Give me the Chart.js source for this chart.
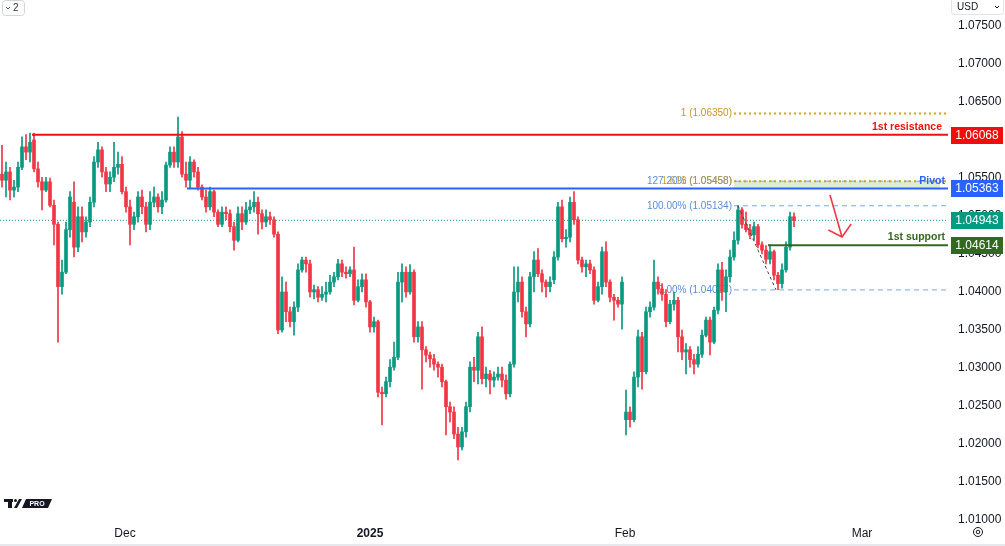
<!DOCTYPE html>
<html>
<head>
<meta charset="utf-8">
<script src="https://cdn.jsdelivr.net/npm/chart.js@4.4.1/dist/chart.umd.min.js"></script>
<style>
html,body{margin:0;padding:0;background:#fff;}
#wrap{position:relative;width:1005px;height:546px;}
</style>
</head>
<body>
<div id="wrap"><canvas id="c" width="1005" height="546"></canvas></div>
<script>
// ---- candle data (EUR/USD style) ----
const opens = [
1.0555,1.0547,1.0558,1.0534,1.0538,1.0564,1.0591,1.0584,1.0600,1.0562,
1.0545,1.0534,1.0545,1.0514,1.0489,1.0407,1.0426,1.0482,1.0518,1.0459,
1.0499,1.0479,1.0492,1.0518,1.0571,1.0587,1.0558,1.0542,1.0551,1.0564,
1.0568,1.0532,1.0512,1.0489,1.0499,1.0525,1.0512,1.0489,1.0518,1.0525,
1.0512,1.0521,1.0567,1.0584,1.0571,1.0604,1.0555,1.0547,1.0571,1.0558,
1.0538,1.0525,1.0512,1.0532,1.0505,1.0489,1.0505,1.0503,1.0486,1.0468,
1.0503,1.0492,1.0508,1.0512,1.0518,1.0503,1.0492,1.0499,1.0495,1.0476,
1.0350,1.0400,1.0374,1.0361,1.0380,1.0429,1.0442,1.0437,1.0400,1.0403,
1.0393,1.0397,1.0400,1.0413,1.0420,1.0437,1.0426,1.0424,1.0429,1.0389,
1.0407,1.0416,1.0387,1.0354,1.0361,1.0268,1.0266,1.0282,1.0301,1.0314,
1.0413,1.0426,1.0400,1.0426,1.0341,1.0354,1.0324,1.0317,1.0312,1.0305,
1.0301,1.0282,1.0249,1.0242,1.0213,1.0196,1.0216,1.0249,1.0301,1.0297,
1.0341,1.0286,1.0292,1.0284,1.0288,1.0292,1.0284,1.0266,1.0305,1.0400,
1.0413,1.0374,1.0358,1.0420,1.0442,1.0424,1.0413,1.0407,1.0416,1.0446,
1.0512,1.0470,1.0472,1.0518,1.0495,1.0442,1.0433,1.0437,1.0429,1.0389,
1.0407,1.0453,1.0413,1.0393,1.0389,1.0384,1.0232,1.0242,1.0232,1.0288,
1.0341,1.0295,1.0374,1.0380,1.0413,1.0404,1.0397,1.0361,1.0384,1.0389,
1.0341,1.0321,1.0324,1.0311,1.0305,1.0318,1.0343,1.0363,1.0334,1.0376,
1.0429,1.0400,1.0420,1.0446,1.0468,1.0508,1.0489,1.0482,1.0475,1.0486,
1.0462,1.0455,1.0443,1.0453,1.0422,1.0411,1.0429,1.0459,1.0499
];
const highs = [
1.0593,1.0571,1.0564,1.0547,1.0571,1.0604,1.0607,1.0609,1.0609,1.0571,
1.0551,1.0551,1.0550,1.0521,1.0492,1.0442,1.0492,1.0532,1.0545,1.0512,
1.0512,1.0499,1.0525,1.0578,1.0597,1.0591,1.0564,1.0558,1.0597,1.0584,
1.0578,1.0538,1.0521,1.0505,1.0532,1.0534,1.0518,1.0532,1.0538,1.0529,
1.0532,1.0571,1.0591,1.0591,1.0630,1.0611,1.0571,1.0578,1.0574,1.0564,
1.0541,1.0534,1.0538,1.0534,1.0508,1.0512,1.0512,1.0508,1.0492,1.0512,
1.0512,1.0518,1.0521,1.0532,1.0525,1.0508,1.0508,1.0505,1.0499,1.0479,
1.0420,1.0413,1.0380,1.0387,1.0437,1.0446,1.0446,1.0442,1.0409,1.0407,
1.0407,1.0413,1.0422,1.0426,1.0443,1.0442,1.0433,1.0433,1.0459,1.0416,
1.0424,1.0424,1.0389,1.0367,1.0363,1.0275,1.0288,1.0311,1.0334,1.0426,
1.0437,1.0433,1.0436,1.0429,1.0361,1.0361,1.0328,1.0321,1.0318,1.0308,
1.0305,1.0284,1.0255,1.0249,1.0222,1.0222,1.0255,1.0308,1.0314,1.0347,
1.0354,1.0301,1.0297,1.0295,1.0301,1.0301,1.0291,1.0308,1.0433,1.0433,
1.0420,1.0380,1.0426,1.0453,1.0457,1.0429,1.0416,1.0420,1.0453,1.0518,
1.0521,1.0482,1.0525,1.0532,1.0499,1.0446,1.0442,1.0442,1.0433,1.0413,
1.0459,1.0466,1.0416,1.0397,1.0393,1.0420,1.0271,1.0249,1.0295,1.0350,
1.0347,1.0380,1.0387,1.0442,1.0420,1.0411,1.0403,1.0389,1.0400,1.0393,
1.0350,1.0332,1.0328,1.0318,1.0328,1.0350,1.0367,1.0367,1.0380,1.0437,
1.0439,1.0429,1.0455,1.0479,1.0514,1.0511,1.0505,1.0489,1.0492,1.0489,
1.0466,1.0461,1.0462,1.0455,1.0426,1.0437,1.0466,1.0505,1.0504
];
const lows = [
1.0538,1.0525,1.0521,1.0525,1.0532,1.0561,1.0574,1.0571,1.0558,1.0538,
1.0508,1.0532,1.0512,1.0462,1.0334,1.0397,1.0424,1.0472,1.0446,1.0453,
1.0466,1.0472,1.0486,1.0512,1.0564,1.0551,1.0532,1.0532,1.0545,1.0555,
1.0529,1.0505,1.0462,1.0482,1.0492,1.0503,1.0479,1.0482,1.0512,1.0505,
1.0503,1.0518,1.0564,1.0564,1.0564,1.0551,1.0538,1.0536,1.0551,1.0534,
1.0521,1.0505,1.0508,1.0499,1.0486,1.0486,1.0495,1.0479,1.0455,1.0466,
1.0482,1.0489,1.0503,1.0505,1.0476,1.0483,1.0486,1.0489,1.0472,1.0345,
1.0347,1.0361,1.0354,1.0343,1.0374,1.0426,1.0426,1.0393,1.0391,1.0387,
1.0389,1.0387,1.0397,1.0407,1.0416,1.0420,1.0418,1.0420,1.0383,1.0387,
1.0400,1.0380,1.0347,1.0347,1.0262,1.0225,1.0262,1.0275,1.0297,1.0311,
1.0387,1.0393,1.0397,1.0334,1.0334,1.0272,1.0308,1.0301,1.0297,1.0288,
1.0275,1.0212,1.0229,1.0207,1.0179,1.0192,1.0209,1.0242,1.0282,1.0279,
1.0279,1.0275,1.0266,1.0275,1.0284,1.0275,1.0259,1.0262,1.0301,1.0387,
1.0367,1.0341,1.0354,1.0400,1.0420,1.0400,1.0393,1.0400,1.0411,1.0442,
1.0466,1.0459,1.0466,1.0489,1.0437,1.0426,1.0420,1.0424,1.0384,1.0387,
1.0397,1.0407,1.0387,1.0363,1.0380,1.0351,1.0212,1.0222,1.0229,1.0275,
1.0272,1.0292,1.0367,1.0376,1.0397,1.0389,1.0354,1.0358,1.0376,1.0321,
1.0311,1.0292,1.0301,1.0292,1.0301,1.0314,1.0341,1.0317,1.0332,1.0371,
1.0389,1.0374,1.0413,1.0442,1.0463,1.0484,1.0479,1.0470,1.0468,1.0458,
1.0450,1.0437,1.0437,1.0416,1.0403,1.0405,1.0426,1.0455,1.0486
];
const closes = [
1.0547,1.0558,1.0534,1.0538,1.0564,1.0591,1.0584,1.0597,1.0562,1.0545,
1.0534,1.0545,1.0514,1.0489,1.0407,1.0426,1.0482,1.0525,1.0459,1.0499,
1.0479,1.0492,1.0518,1.0571,1.0587,1.0558,1.0542,1.0551,1.0564,1.0568,
1.0532,1.0512,1.0489,1.0499,1.0525,1.0512,1.0489,1.0518,1.0525,1.0512,
1.0521,1.0567,1.0584,1.0571,1.0604,1.0555,1.0547,1.0571,1.0558,1.0538,
1.0525,1.0512,1.0532,1.0505,1.0489,1.0505,1.0503,1.0486,1.0468,1.0503,
1.0492,1.0508,1.0512,1.0518,1.0503,1.0492,1.0499,1.0495,1.0476,1.0350,
1.0400,1.0374,1.0361,1.0380,1.0429,1.0442,1.0437,1.0400,1.0403,1.0393,
1.0397,1.0400,1.0413,1.0420,1.0437,1.0426,1.0424,1.0429,1.0389,1.0407,
1.0416,1.0387,1.0354,1.0361,1.0268,1.0266,1.0282,1.0301,1.0314,1.0413,
1.0426,1.0400,1.0426,1.0341,1.0354,1.0324,1.0317,1.0312,1.0305,1.0301,
1.0282,1.0249,1.0242,1.0213,1.0196,1.0216,1.0249,1.0301,1.0297,1.0341,
1.0286,1.0292,1.0284,1.0288,1.0292,1.0284,1.0266,1.0305,1.0400,1.0413,
1.0374,1.0358,1.0420,1.0442,1.0424,1.0413,1.0407,1.0413,1.0446,1.0512,
1.0470,1.0472,1.0518,1.0495,1.0442,1.0433,1.0437,1.0429,1.0389,1.0407,
1.0453,1.0413,1.0393,1.0389,1.0384,1.0413,1.0242,1.0232,1.0288,1.0341,
1.0295,1.0374,1.0380,1.0413,1.0404,1.0397,1.0361,1.0384,1.0389,1.0341,
1.0321,1.0324,1.0311,1.0305,1.0318,1.0343,1.0363,1.0334,1.0376,1.0429,
1.0400,1.0420,1.0446,1.0468,1.0508,1.0489,1.0482,1.0475,1.0486,1.0462,
1.0455,1.0443,1.0453,1.0422,1.0411,1.0429,1.0459,1.0499,1.04943
];

// ---- x axis (candle index) tick labels ----
const monthTickIndex = [30.75, 92, 155.75, 215];
const monthTickLabels = ['Dec', '2025', 'Feb', 'Mar'];

// ---- price axis ----
const priceTicks = [1.010,1.015,1.020,1.025,1.030,1.035,1.040,1.045,1.050,1.055,1.060,1.065,1.070,1.075];

// ---- drawn levels ----
const resistanceLevel = 1.06068, resistanceFrom = 7.5;
const pivotLevel = 1.05363, pivotFrom = 46.25;
const supportLevel = 1.04614, supportFrom = 191.5;
const lastPrice = 1.04943;
const fibPrices = [1.06350, 1.05458, 1.05134, 1.04027];
const fibTexts = ['1 (1.06350)', '127.20% (1.05458)', '100.00% (1.05134)', '0.00% (1.04027)'];
const fibFrom = 183;
const swingHigh = {x: 184, y: 1.05134}, swingLow = {x: 193.5, y: 1.04027};
const arrowShaft = [{x: 207, y: 1.05276}, {x: 210, y: 1.04724}];
const arrowHead = [{x: 206.6, y: 1.04816}, {x: 210, y: 1.04724}, {x: 212.3, y: 1.04895}];

const UP = '#089981', DOWN = '#f23645';
const XMAX = 236.5;
const FONT = "'Liberation Sans', Arial, sans-serif";

const idx = opens.map((_, i) => i);
const isUp = idx.map(i => closes[i] >= opens[i]);
const colors = isUp.map(u => u ? UP : DOWN);

function hline(level, from, color, width, dash, order) {
  return {type: 'line', data: [{x: from, y: level}, {x: XMAX, y: level}], borderColor: color,
    borderWidth: width, borderDash: dash || [], pointRadius: 0, order: order || 1, tension: 0};
}

const datasets = [
  {type: 'bar', data: idx.map(i => ({x: i, y: [lows[i], highs[i]]})), backgroundColor: colors,
    barThickness: 1, grouped: false, order: 5},
  {type: 'bar', data: idx.map(i => ({x: i, y: [opens[i], closes[i]]})), backgroundColor: colors,
    barThickness: 3, minBarLength: 1, grouped: false, order: 4},
  hline(lastPrice, -0.5, UP, 1, [1, 2], 6),
  hline(resistanceLevel, resistanceFrom, '#f01010', 2, [], 1),
  hline(pivotLevel, pivotFrom, '#2962ff', 2, [], 1),
  hline(supportLevel, supportFrom, '#33691e', 2, [], 1),
  hline(fibPrices[0], fibFrom, '#d4a21c', 2, [2, 3], 2),
  hline(fibPrices[1], fibFrom, '#d4a21c', 2, [2, 3], 2),
  hline(fibPrices[1], fibFrom, 'rgba(90,150,230,0.8)', 1, [5, 4], 2),
  hline(fibPrices[2], fibFrom, 'rgba(90,150,230,0.85)', 1, [5, 4], 2),
  hline(fibPrices[3], fibFrom, 'rgba(90,150,230,0.85)', 1, [5, 4], 2),
  {type: 'line', data: [swingHigh, swingLow], borderColor: '#444', borderWidth: 1, borderDash: [3, 3], pointRadius: 0, order: 1},
  {type: 'line', data: arrowShaft, borderColor: DOWN, borderWidth: 1.6, pointRadius: 0, order: 1},
  {type: 'line', data: arrowHead, borderColor: DOWN, borderWidth: 1.6, pointRadius: 0, order: 1}
];

const annot = {
  id: 'annot',
  beforeDatasetsDraw(chart) {
    const {ctx, scales: {x, y}, chartArea} = chart;
    ctx.save();
    const bx0 = x.getPixelForValue(fibFrom), bx1 = chartArea.right - 8;
    const by0 = y.getPixelForValue(fibPrices[1]), by1 = y.getPixelForValue(pivotLevel);
    ctx.fillStyle = 'rgba(120,190,110,0.28)';
    ctx.fillRect(bx0, by0, bx1 - bx0, by1 - by0);
    ctx.font = '10px ' + FONT;
    ctx.textAlign = 'right';
    ctx.textBaseline = 'middle';
    const tx = x.getPixelForValue(fibFrom) - 2;
    ctx.fillStyle = '#c9971a';
    ctx.fillText(fibTexts[0], tx, y.getPixelForValue(fibPrices[0]));
    ctx.fillStyle = 'rgba(70,130,220,0.9)';
    ctx.fillText(fibTexts[1], tx, y.getPixelForValue(fibPrices[1]));
    ctx.fillStyle = 'rgba(201,151,26,0.85)';
    ctx.fillText('1.618 (1.05458)', tx, y.getPixelForValue(fibPrices[1]));
    ctx.fillStyle = 'rgba(70,130,220,0.9)';
    ctx.fillText(fibTexts[2], tx, y.getPixelForValue(fibPrices[2]));
    ctx.fillText(fibTexts[3], tx, y.getPixelForValue(fibPrices[3]));
    ctx.restore();
  },
  afterDraw(chart) {
    const {ctx, scales: {x, y}, chartArea} = chart;
    ctx.save();
    ctx.font = 'bold 10.5px ' + FONT;
    ctx.textAlign = 'right';
    ctx.textBaseline = 'bottom';
    ctx.fillStyle = '#f01010';
    ctx.fillText('1st resistance', chartArea.right - 6, y.getPixelForValue(resistanceLevel) - 2);
    ctx.fillStyle = '#2962ff';
    ctx.fillText('Pivot', chartArea.right - 3, y.getPixelForValue(pivotLevel) - 2);
    ctx.fillStyle = '#33691e';
    ctx.fillText('1st support', chartArea.right - 3, y.getPixelForValue(supportLevel) - 3);
    const tags = [[resistanceLevel, '#f20d0d'], [pivotLevel, '#2962ff'], [lastPrice, UP], [supportLevel, '#33691e']];
    ctx.font = '12px ' + FONT;
    ctx.textAlign = 'center';
    ctx.textBaseline = 'middle';
    tags.forEach(([v, c]) => {
      const py = Math.round(y.getPixelForValue(v));
      ctx.fillStyle = c;
      ctx.fillRect(951, py - 8, 52, 17);
      ctx.fillStyle = '#fff';
      ctx.fillText(v.toFixed(5), 977, py + 1);
    });
    ctx.fillStyle = '#fff';
    ctx.fillRect(951, 0, 54, 15);
    ctx.strokeStyle = '#e0e3eb';
    ctx.lineWidth = 1;
    ctx.beginPath(); ctx.roundRect(951.5, -3.5, 52, 18, 3); ctx.stroke();
    ctx.fillStyle = '#131722';
    ctx.font = '10px ' + FONT;
    ctx.textAlign = 'left';
    ctx.fillText('USD', 957, 7);
    ctx.strokeStyle = '#131722';
    ctx.beginPath(); ctx.moveTo(995, 6); ctx.lineTo(997, 8); ctx.lineTo(999, 6); ctx.stroke();
    ctx.strokeStyle = '#d1d4dc';
    ctx.beginPath(); ctx.roundRect(2.5, 0.5, 22, 15, 3); ctx.stroke();
    ctx.strokeStyle = '#555';
    ctx.beginPath(); ctx.moveTo(6, 7); ctx.lineTo(8, 9); ctx.lineTo(10, 7); ctx.stroke();
    ctx.fillStyle = '#333';
    ctx.font = '10px ' + FONT;
    ctx.fillText('2', 13, 8);
    ctx.fillStyle = '#131722';
    ctx.fillRect(4, 499, 9, 3);
    ctx.fillRect(8, 499, 4, 9);
    ctx.beginPath(); ctx.moveTo(14, 508); ctx.lineTo(19, 499); ctx.lineTo(22, 499); ctx.lineTo(17, 508); ctx.closePath(); ctx.fill();
    ctx.beginPath(); ctx.arc(15.5, 500.5, 1.5, 0, Math.PI * 2); ctx.fill();
    ctx.beginPath(); ctx.moveTo(26, 499); ctx.lineTo(52, 499); ctx.lineTo(48, 508); ctx.lineTo(22, 508); ctx.closePath(); ctx.fill();
    ctx.fillStyle = '#fff';
    ctx.font = 'bold 7px ' + FONT;
    ctx.textAlign = 'center';
    ctx.fillText('PRO', 37, 504);
    ctx.strokeStyle = '#131722';
    ctx.lineWidth = 1;
    ctx.beginPath(); ctx.arc(978, 532, 4.5, 0, Math.PI * 2); ctx.stroke();
    ctx.beginPath(); ctx.arc(978, 532, 1.8, 0, Math.PI * 2); ctx.stroke();
    ctx.fillStyle = '#e6e8ee';
    ctx.fillRect(0, 544, 1005, 2);
    ctx.restore();
  }
};

new Chart(document.getElementById('c'), {
  type: 'bar',
  data: {datasets},
  options: {
    responsive: false,
    animation: false,
    events: [],
    layout: {padding: 0},
    plugins: {legend: {display: false}, tooltip: {enabled: false}},
    scales: {
      x: {
        type: 'linear', min: -0.5, max: XMAX, offset: false,
        grid: {display: false, drawTicks: false}, border: {display: false},
        afterFit(s) { s.height = 24; s.paddingLeft = 0; s.paddingRight = 0; },
        afterBuildTicks(s) { s.ticks = monthTickIndex.map(v => ({value: v})); },
        ticks: {
          autoSkip: false, maxRotation: 0, padding: 4, color: '#131722',
          font: (c) => ({family: FONT, size: 12, weight: (c.tick && c.tick.value === monthTickIndex[1]) ? 'bold' : 'normal'}),
          callback: (v) => { const k = monthTickIndex.indexOf(v); return k >= 0 ? monthTickLabels[k] : ''; }
        }
      },
      y: {
        type: 'linear', position: 'right',
        min: 1.00973, max: 1.07842,
        grid: {display: false, drawTicks: false}, border: {display: false},
        afterFit(s) { s.width = 57; s.paddingTop = 0; s.paddingBottom = 0; },
        afterBuildTicks(s) { s.ticks = priceTicks.map(v => ({value: v})); },
        ticks: {
          padding: 10, color: '#131722', font: {family: FONT, size: 12},
          callback: (v) => Number(v).toFixed(5)
        }
      }
    }
  },
  plugins: [annot]
});
</script>
</body>
</html>
